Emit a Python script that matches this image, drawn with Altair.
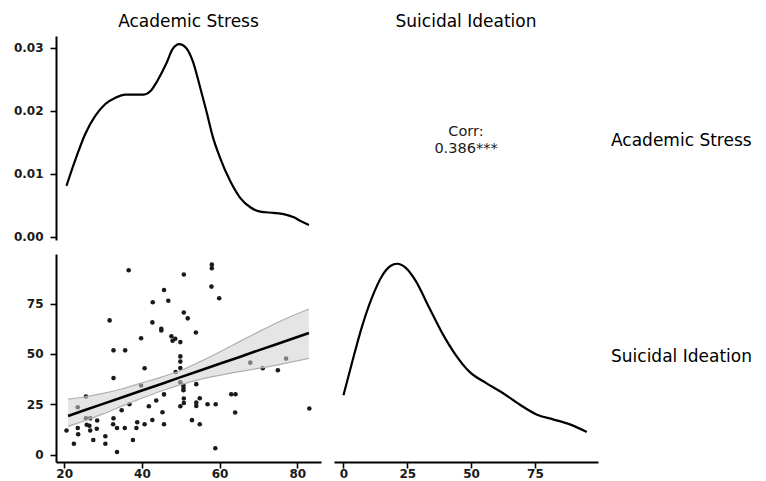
import altair as alt
import pandas as pd

# ---- labels ----
var_names = ["Academic Stress", "Suicidal Ideation"]
corr_label = "Corr:\n0.386***"

# ---- scatter data (Academic Stress vs Suicidal Ideation) ----
as_vals = [36.6, 58.0, 58.0, 50.8, 45.7, 57.9, 59.9, 42.8, 46.8, 31.7,
           42.7, 50.8, 51.8, 45.0, 45.0, 53.9, 39.8, 47.6, 48.6, 47.9,
           49.9, 32.7, 35.7, 49.9, 49.9, 49.9, 40.7, 48.7, 67.9, 71.1,
           75.0, 77.1, 32.7, 50.7, 50.7, 50.7, 54.0, 45.7, 25.6, 43.7,
           36.8, 41.8, 50.8, 50.8, 49.9, 54.0, 54.0, 54.9, 56.9, 59.0,
           63.0, 64.1, 64.0, 83.1, 34.8, 45.3, 32.7, 25.6, 26.7, 28.5,
           38.8, 42.7, 45.7, 25.8, 26.5, 32.6, 40.7, 23.5, 28.4, 26.7,
           33.6, 35.6, 38.6, 20.6, 23.6, 30.6, 27.5, 37.7, 30.6, 22.5,
           33.6, 52.9, 54.9, 58.9, 23.5, 39.8, 49.9]
si_vals = [91.6, 94.4, 92.6, 89.5, 81.8, 83.5, 77.7, 75.7, 76.5, 66.7,
           65.7, 70.6, 67.7, 62.5, 61.7, 60.7, 57.8, 58.8, 57.6, 56.6,
           55.9, 51.8, 51.8, 48.8, 46.2, 43.0, 42.9, 41.0, 45.7, 42.9,
           41.9, 47.7, 38.0, 34.3, 33.1, 32.0, 35.0, 29.9, 28.9, 26.9,
           25.0, 24.0, 27.9, 25.6, 24.0, 25.8, 24.1, 28.0, 25.0, 25.0,
           30.0, 30.0, 20.9, 22.9, 22.0, 21.0, 18.0, 18.0, 18.0, 16.9,
           16.1, 17.2, 15.1, 14.8, 14.3, 15.1, 15.1, 13.2, 12.8, 12.0,
           13.2, 13.2, 13.2, 12.0, 10.1, 9.1, 7.2, 7.2, 5.4, 5.4,
           1.3, 17.1, 15.1, 3.1, 23.5, 34.3, 35.9]

# ---- regression line and confidence band ----
fit_x = [21, 25, 30, 35, 40, 45, 50, 55, 60, 65, 70, 75, 83]
fit_y = [19.2, 21.9, 25.2, 28.5, 31.8, 35.1, 38.5, 41.8, 45.1, 48.4, 51.8, 55.1, 60.4]
fit_lo = [14.0, 16.6, 20.2, 24.2, 28.0, 31.6, 34.8, 37.4, 39.4, 41.2, 42.8, 44.6, 47.8]
fit_hi = [27.6, 28.6, 30.4, 32.7, 35.6, 38.5, 41.8, 46.2, 51.0, 56.0, 61.0, 65.8, 72.4]

# ---- density of Academic Stress ----
as_dens_x = [20.6, 22.8, 25.4, 28.0, 30.6, 33.2, 35.8, 38.4, 40.5, 42.3, 44.0,
             46.2, 47.9, 49.6, 51.4, 53.1, 54.8, 56.6, 58.3, 60.1, 62.7, 65.3,
             67.9, 70.5, 73.9, 76.5, 79.1, 80.9, 83.0]
as_dens_y = [0.0081, 0.0121, 0.0163, 0.0192, 0.0211, 0.0221, 0.0226, 0.0226,
             0.0226, 0.0232, 0.0248, 0.0274, 0.0298, 0.0306, 0.0300, 0.0279,
             0.0242, 0.0200, 0.0158, 0.0126, 0.0089, 0.0062, 0.0047, 0.0040,
             0.0038, 0.0036, 0.0031, 0.0025, 0.0019]

# ---- density of Suicidal Ideation ----
si_dens_x = [0.0, 3.3, 7.2, 11.2, 15.1, 18.4, 21.0, 24.3, 28.3, 33.5, 38.8,
             44.0, 49.3, 55.9, 62.4, 69.0, 75.6, 82.1, 88.7, 95.3]
si_dens_y = [0.00545, 0.0085, 0.01194, 0.01477, 0.01681, 0.01776, 0.01797,
             0.0176, 0.01634, 0.01383, 0.01132, 0.00928, 0.0077, 0.00661,
             0.00567, 0.00457, 0.00363, 0.00316, 0.00268, 0.00196]

# ---- axis ticks ----
ticks_as = [20, 40, 60, 80]
ticks_si = [0, 25, 50, 75]
ticks_dens = [0, 0.01, 0.02, 0.03]

scatter_df = pd.DataFrame({"as": as_vals, "si": si_vals})
fit_df = pd.DataFrame({"x": fit_x, "y": fit_y, "lo": fit_lo, "hi": fit_hi})
as_dens_df = pd.DataFrame({"x": as_dens_x, "d": as_dens_y})
si_dens_df = pd.DataFrame({"x": si_dens_x, "d": si_dens_y})

W1, W2 = 265, 264
H1, H2 = 204, 208
FONT = "DejaVu Sans"

as_scale = alt.Scale(domain=[17.9, 86.1], nice=False, zero=False)
si_scale = alt.Scale(domain=[-3.7, 99.7], nice=False, zero=False)

# Top-left: density of Academic Stress
tl = alt.Chart(as_dens_df).mark_line(
    color="black", strokeWidth=2.2, interpolate="monotone"
).encode(
    x=alt.X("x:Q", scale=as_scale, axis=None),
    y=alt.Y("d:Q", scale=alt.Scale(domain=[-0.0005, 0.0319], nice=False, zero=False),
            axis=alt.Axis(values=ticks_dens, format=".2f", title=None)),
).properties(width=W1, height=H1, title=var_names[0])

# Top-right: correlation text + row label
tr_corr = alt.Chart(pd.DataFrame({"t": [corr_label]})).mark_text(
    font=FONT, fontSize=14.5, lineBreak="\n", lineHeight=17, align="center",
    baseline="middle", color="#1a1a1a"
).encode(text="t:N", x=alt.value(W2 / 2), y=alt.value(96))
tr_lab = alt.Chart(pd.DataFrame({"t": [var_names[0]]})).mark_text(
    font=FONT, fontSize=17, align="left", baseline="middle", color="black"
).encode(text="t:N", x=alt.value(277), y=alt.value(105))
tr = alt.layer(tr_corr, tr_lab).properties(width=W2, height=H1, title=var_names[1])

# Bottom-left: scatter + smooth
pts = alt.Chart(scatter_df).mark_circle(size=21, color="#1a1a1a", opacity=1).encode(
    x=alt.X("as:Q", scale=as_scale, axis=alt.Axis(values=ticks_as, title=None)),
    y=alt.Y("si:Q", scale=si_scale, axis=alt.Axis(values=ticks_si, title=None)),
)
band = alt.Chart(fit_df).mark_area(color="#d0d0d0", opacity=0.55, interpolate="monotone").encode(
    x="x:Q", y="lo:Q", y2="hi:Q"
)
band_edge_lo = alt.Chart(fit_df).mark_line(color="#b0b0b0", strokeWidth=1.2, interpolate="monotone").encode(
    x="x:Q", y="lo:Q"
)
band_edge_hi = alt.Chart(fit_df).mark_line(color="#b0b0b0", strokeWidth=1.2, interpolate="monotone").encode(
    x="x:Q", y="hi:Q"
)
fit_line = alt.Chart(fit_df).mark_line(color="black", strokeWidth=2.6).encode(
    x="x:Q", y="y:Q"
)
bl = alt.layer(pts, band, band_edge_lo, band_edge_hi, fit_line).properties(width=W1, height=H2)

# Bottom-right: density of Suicidal Ideation + row label
br_line = alt.Chart(si_dens_df).mark_line(
    color="black", strokeWidth=2.2, interpolate="monotone"
).encode(
    x=alt.X("x:Q", scale=si_scale, axis=alt.Axis(values=ticks_si, title=None)),
    y=alt.Y("d:Q", scale=alt.Scale(domain=[-0.0009, 0.0189], nice=False, zero=False), axis=None),
)
br_lab = alt.Chart(pd.DataFrame({"t": [var_names[1]]})).mark_text(
    font=FONT, fontSize=17, align="left", baseline="middle", color="black"
).encode(text="t:N", x=alt.value(277), y=alt.value(103))
br = alt.layer(br_line, br_lab).properties(width=W2, height=H2)

chart = alt.concat(
    tl, tr, bl, br, columns=2, spacing={"row": 11, "column": 13}
).properties(
    padding={"left": 5, "top": 5, "right": 5, "bottom": 0}
).configure_axis(
    grid=False, domainColor="black", domainWidth=2, tickColor="black",
    tickWidth=1.6, tickSize=6, labelFont=FONT, labelFontWeight="bold",
    labelFontSize=12, labelColor="#1a1a1a"
).configure_axisY(
    labelPadding=7, minExtent=42, maxExtent=42
).configure_axisX(
    labelPadding=0
).configure_title(
    font=FONT, fontSize=17, fontWeight="normal", anchor="middle", offset=5, color="black"
).configure_view(strokeWidth=0)

chart.save("out.html", embed_options={"renderer": "svg", "actions": False})
